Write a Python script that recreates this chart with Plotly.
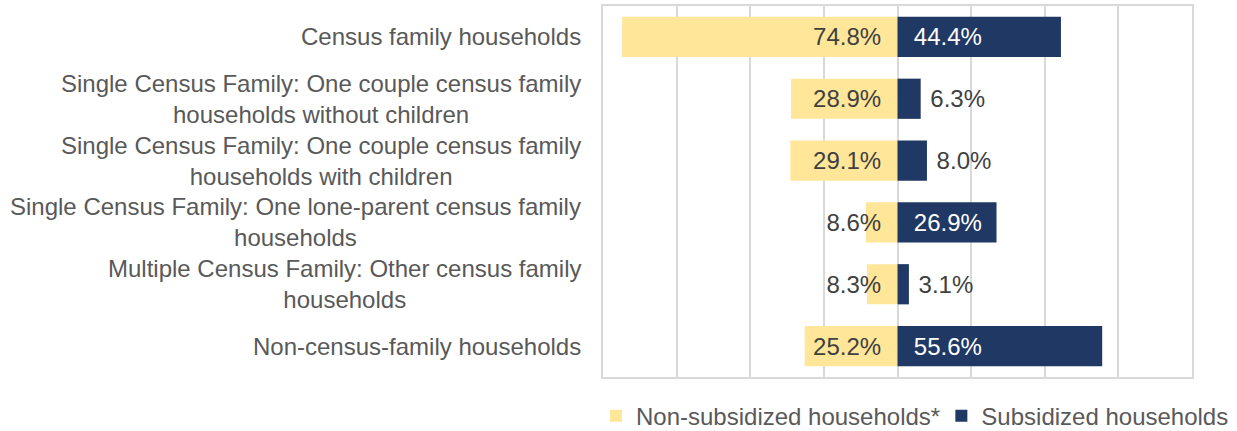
import plotly.graph_objects as go

categories = [
    "Census family households",
    "Single Census Family: One couple census family<br>households without children",
    "Single Census Family: One couple census family<br>households with children",
    "Single Census Family: One lone-parent census family<br>households",
    "Multiple Census Family: Other census family<br>households",
    "Non-census-family households",
]
non_subsidized = [74.8, 28.9, 29.1, 8.6, 8.3, 25.2]
subsidized = [44.4, 6.3, 8.0, 26.9, 3.1, 55.6]
sub_positions = ["inside", "outside", "outside", "inside", "outside", "inside"]

NBSP = "\u00a0"
FONT = "Liberation Sans, Arial, sans-serif"
FS = 24
GREY = "#595959"
DARK = "#404040"

ns_text = [f"{v:.1f}%" + NBSP * 2 for v in non_subsidized]
s_text = [(NBSP * 2 if p == "inside" else NBSP) + f"{v:.1f}%" for v, p in zip(subsidized, sub_positions)]

fig = go.Figure()
fig.add_trace(go.Bar(
    y=categories, x=[-v for v in non_subsidized], orientation="h",
    name="Non-subsidized households*", legend="legend",
    marker=dict(color="#FFE699", line=dict(width=0)),
    text=ns_text, textposition="inside", insidetextanchor="start",
    textangle=0, constraintext="none",
    insidetextfont=dict(color=DARK, size=FS, family=FONT),
    hoverinfo="skip", cliponaxis=False,
))
fig.add_trace(go.Bar(
    y=categories, x=subsidized, orientation="h",
    name="Subsidized households", legend="legend2",
    marker=dict(color="#203864", line=dict(width=0)),
    text=s_text, textposition=sub_positions, insidetextanchor="start",
    textangle=0, constraintext="none",
    insidetextfont=dict(color="white", size=FS, family=FONT),
    outsidetextfont=dict(color=DARK, size=FS, family=FONT),
    hoverinfo="skip", cliponaxis=False,
))

# category labels (centred multi-line, right-anchored next to the plot area)
for cat in categories:
    fig.add_annotation(
        xref="paper", yref="y", x=0, y=cat, text=cat,
        xanchor="right", yanchor="middle", align="center", xshift=-20,
        showarrow=False, font=dict(family=FONT, size=FS, color=GREY),
    )

legend_common = dict(orientation="v", xref="container", yref="paper",
                     xanchor="left", y=-0.045, yanchor="top",
                     font=dict(size=FS, color=GREY, family=FONT), itemwidth=30,
                     bgcolor="rgba(0,0,0,0)", borderwidth=0)

fig.update_layout(
    width=1237, height=431,
    margin=dict(l=603, r=45, t=6, b=54, autoexpand=False),
    barmode="relative", bargap=0.35,
    plot_bgcolor="white", paper_bgcolor="white",
    font=dict(family=FONT, size=FS, color=GREY),
    legend=dict(x=0.4818, **legend_common),
    legend2=dict(x=0.7610, **legend_common),
    showlegend=True,
)
fig.update_xaxes(range=[-80, 80], dtick=20, showticklabels=False,
                 showgrid=True, gridcolor="#D9D9D9", gridwidth=1.5,
                 zeroline=True, zerolinecolor="#D9D9D9", zerolinewidth=1.5,
                 showline=True, linecolor="#D9D9D9", linewidth=1.5, mirror=True)
fig.update_yaxes(autorange="reversed", showgrid=False, showticklabels=False,
                 showline=True, linecolor="#D9D9D9", linewidth=1.5, mirror=True)

fig.write_html("out.html", config={"displayModeBar": False},
               post_script="document.body.style.margin='0';document.body.style.overflow='hidden';")
